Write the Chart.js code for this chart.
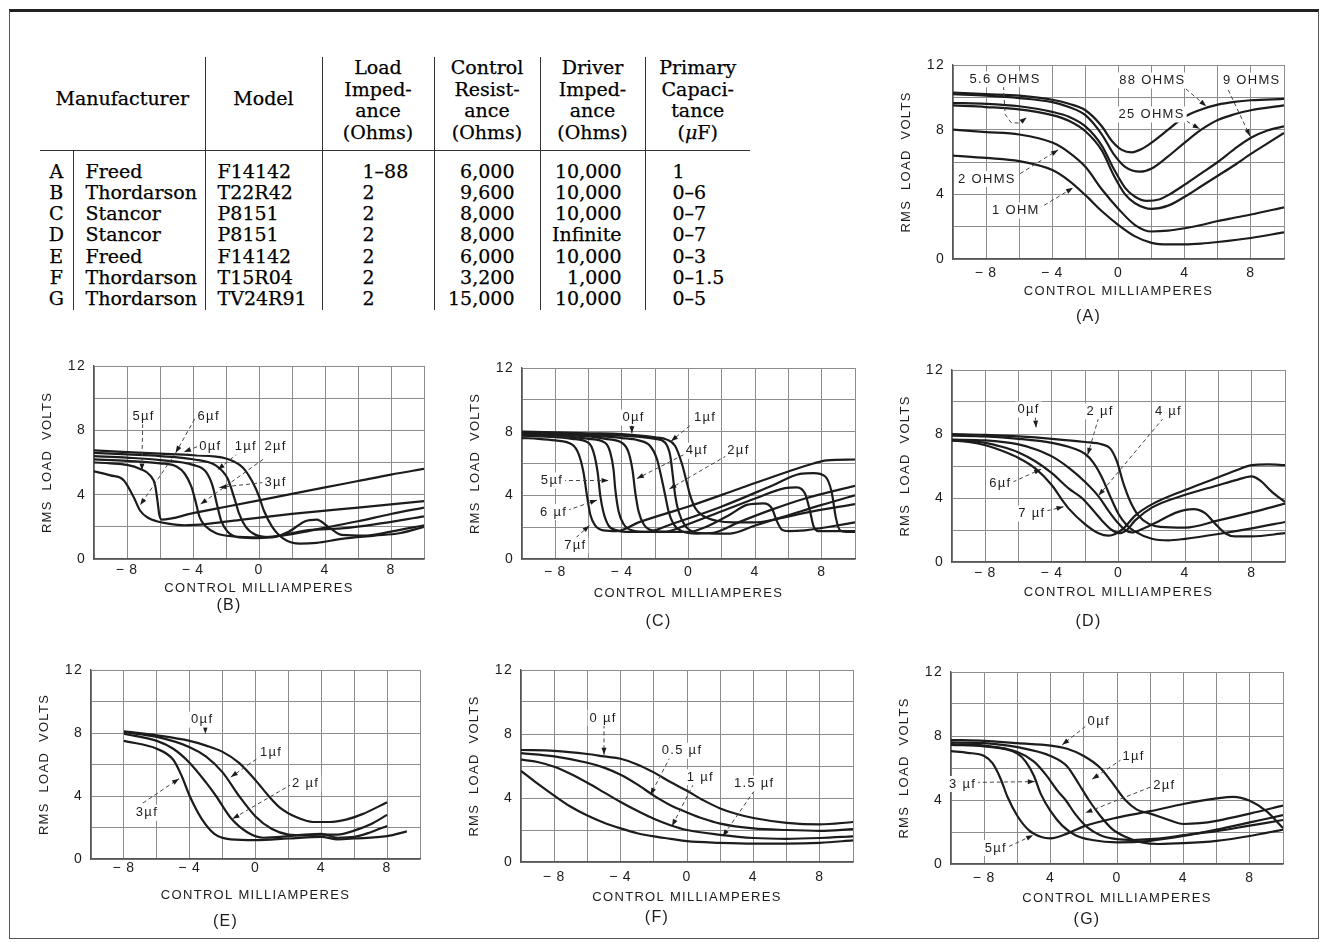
<!DOCTYPE html>
<html>
<head>
<meta charset="utf-8">
<script src="https://cdn.jsdelivr.net/npm/chart.js@4.4.0/dist/chart.umd.min.js"></script>
<style>
body { margin:0; background:#fff; width:1325px; height:942px; position:relative; overflow:hidden; }
#frame { position:absolute; left:9px; top:9px; width:1308px; height:926px; border:1px solid #555; border-top:3px solid #222; }
#spec { position:absolute; left:40px; top:57px; border-collapse:collapse; table-layout:fixed; width:710px;
        font-family:"DejaVu Serif", serif; font-size:19px; color:#000; -webkit-text-stroke:0.25px #000; }
#spec th { font-weight:normal; vertical-align:top; line-height:21.7px; padding:0; text-align:center; border-bottom:1.5px solid #333; }
#spec th.one { padding-top:31px; }
#spec td { padding:0; line-height:21.3px; white-space:nowrap; }
#spec tr.first td { padding-top:10px; }
#spec .v { border-left:1.5px solid #333; }
canvas { position:absolute; }
</style>
</head>
<body>
<div id="frame"></div>
<table id="spec"></table>
<script>
// ---------- table data ----------
var headers = ['Manufacturer', 'Model', 'Load<br>Imped-<br>ance<br>(Ohms)', 'Control<br>Resist-<br>ance<br>(Ohms)',
               'Driver<br>Imped-<br>ance<br>(Ohms)', 'Primary<br>Capaci-<br>tance<br>(<i>μ</i>F)'];
var rowLetters = ['A', 'B', 'C', 'D', 'E', 'F', 'G'];
var manufacturers = ['Freed', 'Thordarson', 'Stancor', 'Stancor', 'Freed', 'Thordarson', 'Thordarson'];
var models = ['F14142', 'T22R42', 'P8151', 'P8151', 'F14142', 'T15R04', 'TV24R91'];
var loadImpedance = ['1–88', '2', '2', '2', '2', '2', '2'];
var controlResistance = ['6,000', '9,600', '8,000', '8,000', '6,000', '3,200', '15,000'];
var driverImpedance = ['10,000', '10,000', '10,000', 'Infinite', '10,000', '1,000', '10,000'];
var primaryCapacitance = ['1', '0–6', '0–7', '0–7', '0–3', '0–1.5', '0–5'];

// ---------- chart axes ----------
var xTicks = [-8, -4, 0, 4, 8];
var xTickText = ['\u2212\u20098', '\u2212\u20094', '0', '4', '8'];
var xTickTextG = ['\u2212\u20098', '4', '0', '4', '8'];
var yTicks = [0, 4, 8, 12];

// ---------- (A) load impedance curves ----------
var A_88 = [[-10,10.3],[-8,10.2],[-6,10.1],[-4,9.85],[-3,9.6],[-2,9.2],[-1,8.2],[-0.4,7.3],[0.2,6.75],[0.8,6.6],[1.4,6.8],[2,7.2],[3,8.0],[4,8.8],[5,9.25],[6,9.55],[7,9.72],[8,9.82],[10,9.9]];
var A_25 = [[-10,10.2],[-8,10.1],[-6,9.95],[-4,9.7],[-3,9.4],[-2,8.9],[-1,7.7],[-0.3,6.5],[0.4,5.7],[1.3,5.4],[2,5.6],[3,6.35],[4,7.2],[5,8.0],[6,8.6],[7,8.95],[8,9.2],[10,9.5]];
var A_9 = [[-10,9.65],[-8,9.6],[-6,9.45],[-4,9.1],[-3,8.8],[-2,8.2],[-1,7.0],[-0.3,5.6],[0.4,4.4],[1,3.85],[1.7,3.6],[2.5,3.7],[3,3.95],[4,4.6],[5,5.3],[6,6.0],[7,6.8],[8,7.5],[9,7.95],[10,8.2]];
var A_56 = [[-10,9.5],[-8,9.4],[-6,9.25],[-4,8.9],[-3,8.55],[-2,7.9],[-1,6.7],[-0.3,5.2],[0.4,4.0],[1,3.45],[2,3.1],[3,3.3],[4,3.85],[5,4.5],[6,5.15],[7,5.8],[8,6.5],[9,7.15],[10,7.8]];
var A_2 = [[-10,8.0],[-8,7.85],[-6,7.7],[-4,7.2],[-3,6.6],[-2,5.7],[-1,4.3],[0,3.1],[1,2.1],[2,1.7],[3,1.75],[4,1.9],[5,2.1],[6,2.35],[7,2.55],[8,2.75],[10,3.2]];
var A_1 = [[-10,6.4],[-8,6.25],[-6,6.05],[-4,5.5],[-3,4.85],[-2,3.95],[-1,2.95],[0,2.1],[1,1.4],[2,1.0],[3,0.9],[4,0.9],[5,0.95],[6,1.05],[8,1.3],[10,1.65]];

// ---------- (B) ----------
var B_c1 = [[-10,5.45],[-9,5.2],[-8.2,4.9],[-7.6,3.85],[-7.2,3.0],[-6.7,2.55],[-6.2,2.35],[-5.5,2.2],[-4.5,2.1],[-3,2.2],[-1,2.45],[2,2.8],[6,3.2],[10,3.6]];
var B_c2 = [[-10,6.0],[-9,5.95],[-8,5.85],[-7.2,5.6],[-6.6,5.2],[-6.3,4.6],[-6.15,3.6],[-6.05,2.8],[-5.9,2.45],[-4,2.85],[-2,3.25],[0,3.65],[2,4.05],[4,4.45],[6,4.85],[8,5.25],[10,5.6]];
var B_c3 = [[-10,6.2],[-8,6.1],[-6,5.95],[-5,5.75],[-4.5,5.3],[-4.1,4.5],[-3.85,3.6],[-3.6,2.6],[-3.2,2.0],[-2.6,1.6],[-1.5,1.4],[0,1.35],[2,1.55],[4,1.95],[6,2.35],[8,2.8],[10,3.2]];
var B_c4 = [[-10,6.4],[-8,6.3],[-6,6.15],[-4,5.85],[-3.2,5.4],[-2.8,4.5],[-2.55,3.4],[-2.3,2.4],[-1.9,1.7],[-1.2,1.35],[0,1.3],[1,1.4],[3,1.8],[5,1.9],[7,2.15],[10,2.65]];
var B_c5 = [[-10,6.6],[-8,6.5],[-6,6.4],[-4,6.2],[-2.6,5.8],[-1.9,5.0],[-1.5,3.8],[-1.2,2.8],[-0.8,2.0],[-0.2,1.5],[0.8,1.35],[1.8,1.7],[2.8,2.35],[3.5,2.45],[4.2,2.0],[5,1.5],[6.5,1.45],[8,1.7],[10,2.1]];
var B_c6 = [[-10,6.75],[-8,6.65],[-6,6.55],[-4,6.45],[-2,6.25],[-1,5.7],[-0.4,4.8],[0,3.9],[0.3,3.0],[0.8,2.0],[1.5,1.25],[2.5,0.95],[3.5,1.0],[5,1.25],[7,1.45],[8.5,1.6],[10,2.0]];

// ---------- (C) ----------
var C_7 = [[-10,7.6],[-9,7.55],[-8,7.45],[-7,7.2],[-6.6,6.6],[-6.3,5.4],[-6.1,4.0],[-5.9,2.8],[-5.6,2.1],[-5.1,1.8],[-4.3,1.75],[-3,2.3],[0,3.3],[3,4.4],[6,5.5],[7.5,6.0],[8.3,6.2],[10,6.25]];
var C_6 = [[-10,7.75],[-8,7.65],[-7,7.55],[-6,7.3],[-5.7,6.7],[-5.45,5.4],[-5.3,4.0],[-5.1,2.9],[-4.8,2.1],[-4.3,1.8],[-3.5,1.7],[-2.5,1.7],[-1,2.2],[2,3.3],[5,4.6],[6.7,5.35],[7.5,5.4],[8.2,5.2],[8.6,4.2],[8.85,2.6],[9.1,1.8],[9.5,1.7],[10,1.7]];
var C_5 = [[-10,7.8],[-8,7.75],[-6,7.55],[-5,7.3],[-4.7,6.7],[-4.5,5.6],[-4.4,4.4],[-4.2,3.0],[-3.9,2.2],[-3.4,1.8],[-2.5,1.7],[-1.5,1.7],[0,2.2],[2,3.0],[4,3.8],[5.8,4.45],[6.5,4.5],[7,4.1],[7.3,3.0],[7.5,2.1],[7.8,1.75],[10,1.75]];
var C_4 = [[-10,7.85],[-8,7.8],[-6,7.7],[-5,7.55],[-4,7.3],[-3.6,6.7],[-3.35,5.5],[-3.2,4.2],[-3.0,3.0],[-2.7,2.2],[-2.2,1.8],[-1,1.7],[0,1.7],[1,2.0],[2.5,2.8],[3.5,3.4],[4.5,3.5],[5,3.2],[5.3,2.4],[5.6,1.85],[6,1.75],[7,1.8],[10,2.3]];
var C_3 = [[-10,7.9],[-8,7.85],[-6,7.75],[-4,7.6],[-3,7.45],[-2.3,7.1],[-1.9,6.3],[-1.6,5.0],[-1.4,4.0],[-1.2,3.0],[-0.9,2.2],[-0.4,1.75],[0.5,1.6],[1.5,1.65],[3,2.3],[5,3.1],[7,3.8],[10,4.6]];
var C_2 = [[-10,7.95],[-8,7.9],[-6,7.85],[-4,7.75],[-2,7.55],[-1.4,7.3],[-1.1,6.5],[-0.95,5.3],[-0.8,4.0],[-0.6,3.0],[-0.2,2.1],[0.5,1.65],[1.5,1.6],[2.5,1.6],[4,2.1],[6,2.75],[8,3.4],[10,4.0]];
var C_0 = [[-10,8.0],[-8,7.95],[-6,7.9],[-4,7.85],[-2,7.65],[-1.3,7.5],[-0.8,7.1],[-0.4,6.0],[-0.1,4.8],[0.1,4.0],[0.4,3.2],[0.9,2.7],[1.7,2.4],[2.7,2.3],[4,2.3],[5,2.45],[7,2.9],[10,3.45]];

// ---------- (D) ----------
var D_7 = [[-10,7.6],[-9,7.5],[-8,7.3],[-7,6.95],[-6,6.5],[-5,5.85],[-4,4.8],[-3.4,3.9],[-3,3.35],[-2,2.35],[-1.2,1.8],[-0.6,1.65],[-0.2,1.75],[0.3,2.1],[1,2.9],[2,3.6],[4,4.5],[6,5.3],[7,5.7],[8,6.05],[9,6.1],[10,6.05]];
var D_6 = [[-10,7.6],[-9,7.55],[-8,7.45],[-7,7.2],[-6,6.85],[-5,6.3],[-4,5.55],[-3,4.6],[-2.2,4.0],[-1.5,3.2],[-1,2.6],[-0.4,2.0],[0.1,1.8],[0.5,2.0],[1,2.6],[2,3.4],[4,4.2],[6,4.8],[7,5.1],[8,5.35],[8.5,5.1],[9.2,4.4],[10,3.75]];
var D_4 = [[-10,7.65],[-8,7.6],[-6,7.35],[-5,7.05],[-4,6.6],[-3,5.9],[-2,5.0],[-1.2,4.1],[-0.6,3.2],[0,2.4],[0.4,2.0],[0.8,1.85],[1.5,2.1],[2.5,2.6],[3.5,3.1],[4.5,3.3],[5.2,3.05],[5.8,2.4],[6.4,1.8],[7,1.6],[8,1.6],[10,1.8]];
var D_2 = [[-10,7.9],[-8,7.85],[-6,7.7],[-4,7.45],[-3,7.2],[-2,6.75],[-1.5,6.2],[-1,5.3],[-0.5,4.1],[0,3.0],[0.5,2.3],[1,1.9],[2,1.45],[3,1.35],[4,1.45],[6,1.75],[8,2.1],[10,2.5]];
var D_0 = [[-10,8.0],[-8,7.95],[-6,7.85],[-4,7.7],[-2,7.5],[-1,7.35],[-0.5,7.1],[-0.1,6.3],[0.3,4.9],[0.7,3.8],[1.2,2.9],[1.8,2.4],[2.5,2.2],[4,2.15],[6,2.6],[8,3.1],[10,3.65]];

// ---------- (E) ----------
var E_0 = [[-8,8.1],[-6,7.85],[-4,7.5],[-3,7.2],[-2,6.8],[-1,6.1],[0,5.0],[0.8,4.0],[1.5,3.25],[2.5,2.65],[3.5,2.35],[4.5,2.35],[5.5,2.5],[6.5,2.85],[8,3.6]];
var E_1 = [[-8,8.05],[-6,7.75],[-4,7.1],[-3,6.5],[-2,5.5],[-1,4.0],[0,2.7],[1,1.9],[2,1.55],[3,1.5],[4,1.55],[5,1.55],[6,1.8],[7,2.2],[8,2.8]];
var E_2 = [[-8,7.95],[-6,7.5],[-5,7.0],[-4,6.1],[-3,4.85],[-2.4,4.0],[-1.5,2.6],[-0.5,1.7],[0.5,1.35],[2,1.45],[3,1.55],[4,1.6],[5,1.35],[6,1.4],[7,1.7],[8,2.1]];
var E_3 = [[-8,7.5],[-6,7.0],[-5,6.3],[-4.5,5.3],[-4,4.0],[-3.3,2.6],[-2.5,1.6],[-1.5,1.25],[0,1.2],[2,1.3],[4,1.4],[5,1.25],[6,1.3],[8,1.45],[9.2,1.75]];

// ---------- (F) ----------
var F_0 = [[-10,7.0],[-8,6.95],[-6,6.75],[-5,6.6],[-4,6.45],[-3,6.1],[-2,5.6],[-1,5.0],[0,4.45],[1,3.85],[2,3.35],[3,3.0],[4,2.75],[6,2.45],[8,2.35],[10,2.5]];
var F_05 = [[-10,6.8],[-8,6.6],[-6,6.2],[-5,5.9],[-4,5.45],[-3,4.85],[-2,4.15],[-1,3.55],[0,3.1],[1,2.7],[2,2.4],[4,2.1],[6,2.0],[8,1.95],[10,2.05]];
var F_1 = [[-10,6.4],[-9,6.25],[-8,5.95],[-7,5.5],[-6,4.95],[-5,4.35],[-4,3.75],[-3,3.2],[-2,2.7],[-1,2.3],[0,2.0],[2,1.7],[4,1.5],[6,1.45],[8,1.5],[10,1.6]];
var F_15 = [[-10,5.7],[-9,4.9],[-8,4.15],[-7,3.45],[-6,2.9],[-5,2.45],[-4,2.1],[-3,1.8],[-2,1.6],[-1,1.45],[0,1.3],[2,1.2],[4,1.15],[6,1.15],[8,1.2],[10,1.35]];

// ---------- (G) ----------
var G_0 = [[-10,7.75],[-8,7.7],[-6,7.55],[-4,7.4],[-3,7.2],[-2,6.75],[-1,6.0],[-0.3,5.1],[0.5,4.0],[1.2,3.4],[2,3.15],[3,2.8],[4,2.5],[5,2.55],[6,2.7],[8,3.15],[10,3.65]];
var G_1 = [[-10,7.6],[-8,7.55],[-6,7.3],[-4,6.75],[-3,6.1],[-2.3,5.0],[-1.7,4.0],[-1,3.0],[-0.3,2.2],[0.5,1.7],[1.5,1.35],[2.5,1.25],[4,1.3],[6,1.45],[8,1.75],[10,2.15]];
var G_2 = [[-10,7.5],[-8,7.4],[-6,7.0],[-5,6.4],[-4.3,5.6],[-3.6,4.6],[-3.1,4.0],[-2.5,3.1],[-1.8,2.3],[-1,1.8],[0,1.55],[1,1.5],[2,1.55],[3,1.65],[4,1.8],[6,2.05],[8,2.4],[10,2.75]];
var G_3 = [[-10,7.45],[-8,7.35],[-6,6.9],[-5.5,6.4],[-5,5.5],[-4.6,4.4],[-4,3.3],[-3.3,2.4],[-2.5,1.8],[-1.5,1.5],[0,1.35],[2,1.45],[4,1.75],[6,2.15],[8,2.6],[10,3.05]];
var G_5 = [[-10,7.05],[-9,6.95],[-8,6.75],[-7.5,6.3],[-7,5.3],[-6.6,4.2],[-6,3.0],[-5.3,2.1],[-4.6,1.7],[-4,1.6],[-3,1.9],[-2,2.35],[0,2.9],[2,3.3],[4,3.75],[6,4.1],[7,4.2],[8,3.95],[9,3.3],[10,2.25]];

// ---------- curve labels (text, label centre, leader path; data units) ----------
var notesA = [
  {text: '5.6 OHMS', at: [-6.85, 11.12], path: [[-6.95,10.7],[-6.85,8.95],[-6.5,8.45],[-6.0,8.4],[-5.55,8.75]]},
  {text: '88 OHMS', at: [2.05, 11.04], path: [[3.75,10.8],[5.3,9.45]]},
  {text: '9 OHMS', at: [8.05, 11.04], path: [[6.45,10.85],[7.95,7.6]]},
  {text: '25 OHMS', at: [2.0, 8.94], path: [[3.75,8.75],[4.9,8.05]]},
  {text: '2 OHMS', at: [-7.95, 4.95], path: [[-6.3,5.05],[-3.65,6.75]]},
  {text: '1 OHM', at: [-6.2, 3.0], path: [[-4.85,3.1],[-2.75,4.4]]}
];
var notesB = [
  {text: '5µf', at: [-7.0, 8.87], path: [[-7.05,8.4],[-7.1,5.5]]},
  {text: '6µf', at: [-3.05, 8.87], path: [[-3.9,8.7],[-5.05,6.6]]},
  {text: '', at: null, path: [[-5.05,6.6],[-7.2,3.35]]},
  {text: '0µf', at: [-2.95, 6.98], path: [[-3.75,6.98],[-4.55,6.65]]},
  {text: '1µf', at: [-0.8, 6.98], path: [[-1.25,6.6],[-2.5,5.55]]},
  {text: '2µf', at: [1.0, 6.98], path: [[0.25,6.2],[-3.55,3.4]]},
  {text: '3µf', at: [1.0, 4.76], path: [[0.3,4.76],[-2.4,4.45]]}
];
var notesC = [
  {text: '0µf', at: [-3.3, 8.88], path: [[-3.4,8.45],[-3.4,7.9]]},
  {text: '1µf', at: [1.0, 8.88], path: [[0.4,8.65],[-1.05,7.4]]},
  {text: '4µf', at: [0.5, 6.8], path: [[-0.3,6.55],[-3.1,5.05]]},
  {text: '2µf', at: [3.0, 6.8], path: [[2.3,6.5],[-1.15,4.4]]},
  {text: '5µf', at: [-8.2, 4.93], path: [[-7.6,4.93],[-4.8,4.93]]},
  {text: '6 µf', at: [-8.1, 2.95], path: [[-7.3,3.05],[-5.5,3.7]]},
  {text: '7µf', at: [-6.8, 0.87], path: [[-6.75,1.35],[-5.95,2.1]]}
];
var notesD = [
  {text: '0µf', at: [-5.4, 9.53], path: [[-5.0,9.1],[-4.95,8.4]]},
  {text: '2 µf', at: [-1.1, 9.42], path: [[-1.2,9.0],[-1.85,6.7]]},
  {text: '4 µf', at: [3.0, 9.42], path: [[2.7,9.0],[-1.2,4.15]]},
  {text: '6µf', at: [-7.1, 4.93], path: [[-6.35,5.0],[-4.65,5.8]]},
  {text: '7 µf', at: [-5.2, 3.03], path: [[-4.3,3.2],[-3.3,3.45]]}
];
var notesE = [
  {text: '0µf', at: [-3.24, 8.85], path: [[-3.05,8.45],[-3.05,7.95]]},
  {text: '1µf', at: [0.95, 6.75], path: [[0.4,6.6],[-1.5,5.2]]},
  {text: '2 µf', at: [3.05, 4.8], path: [[2.2,4.75],[-1.4,2.55]]},
  {text: '3µf', at: [-6.6, 2.94], path: [[-6.85,3.55],[-4.65,5.1]]}
];
var notesF = [
  {text: '0 µf', at: [-5.05, 9.0], path: [[-5.0,8.6],[-5.0,6.7]]},
  {text: '0.5 µf', at: [-0.3, 6.95], path: [[-1.0,6.6],[-2.2,4.2]]},
  {text: '1 µf', at: [0.8, 5.3], path: [[0.4,4.9],[-0.9,2.25]]},
  {text: '1.5 µf', at: [4.05, 4.9], path: [[4.05,4.45],[2.15,1.6]]}
];
var notesG = [
  {text: '0µf', at: [-1.1, 8.9], path: [[-1.9,8.6],[-3.3,7.45]]},
  {text: '1µf', at: [1.0, 6.75], path: [[0.3,6.55],[-1.5,5.3]]},
  {text: '2µf', at: [2.85, 4.9], path: [[2.0,4.8],[-1.9,3.2]]},
  {text: '3 µf', at: [-9.3, 5.0], path: [[-8.5,5.1],[-4.95,5.15]]},
  {text: '5µf', at: [-7.3, 1.0], path: [[-6.5,1.1],[-5.05,1.8]]}
];

// ---------- look ----------
var INK = '#1c1c1c';
var GRID = '#8c8c8c';
var SANS = '"Liberation Sans", Arial, sans-serif';

// plot-area corners on the page, and offsets of tick row / axis title / caption below it
var boxes = {
  A: {l: 953, t: 63, r: 1284, b: 259, tick: 14, title: 32, cap: 58},
  B: {l: 94, t: 364, r: 424, b: 559, tick: 11, title: 29, cap: 46},
  C: {l: 522, t: 366, r: 855, b: 559, tick: 13, title: 34, cap: 63},
  D: {l: 952, t: 368, r: 1285, b: 562, tick: 11, title: 30, cap: 60},
  E: {l: 91, t: 668, r: 420, b: 859, tick: 9, title: 36, cap: 63},
  F: {l: 521, t: 668, r: 853, b: 862, tick: 15, title: 35, cap: 56},
  G: {l: 951, t: 670, r: 1283, b: 864, tick: 14, title: 34, cap: 56}
};

// ---------- table ----------
function buildTable(){
    var t = document.getElementById('spec');
    var html = '<colgroup><col style="width:33px"><col style="width:132px"><col style="width:117px"><col style="width:112px">' +
               '<col style="width:106px"><col style="width:105px"><col style="width:105px"></colgroup>';
    html += '<tr style="height:93px">';
    html += '<th colspan="2" class="one">' + headers[0] + '</th>';
    html += '<th class="one v">' + headers[1] + '</th>';
    for (var h = 2; h < headers.length; h++) html += '<th class="v">' + headers[h] + '</th>';
    html += '</tr>';
    for (var i = 0; i < rowLetters.length; i++) {
        html += '<tr' + (i === 0 ? ' class="first"' : '') + '>';
        html += '<td style="text-align:center;border-right:1px solid #333">' + rowLetters[i] + '</td>';
        html += '<td style="padding-left:12px">' + manufacturers[i] + '</td>';
        html += '<td class="v" style="padding-left:12px">' + models[i] + '</td>';
        html += '<td class="v" style="padding-left:40px">' + loadImpedance[i] + '</td>';
        html += '<td class="v" style="text-align:right;padding-right:25px">' + controlResistance[i] + '</td>';
        html += '<td class="v" style="text-align:right;padding-right:23px">' + driverImpedance[i] + '</td>';
        html += '<td class="v" style="padding-left:27px">' + primaryCapacitance[i] + '</td>';
        html += '</tr>';
    }
    t.innerHTML = html;
}

// ---------- chart plugins ----------
var spacing = { id: 'spacing', beforeDraw: function(chart){ chart.ctx.letterSpacing = '1.3px'; } };

function leaders(notes){
    return {
        id: 'leaders',
        afterDatasetsDraw: function(chart){
            var ctx = chart.ctx, sx = chart.scales.x, sy = chart.scales.y;
            function px(p){ return [sx.getPixelForValue(p[0]), sy.getPixelForValue(p[1])]; }
            ctx.save();
            notes.forEach(function(n){
                var pts = n.path.map(px);
                ctx.setLineDash([4, 3]);
                ctx.lineWidth = 1;
                ctx.strokeStyle = '#444';
                ctx.beginPath();
                pts.forEach(function(p, i){ if (i) ctx.lineTo(p[0], p[1]); else ctx.moveTo(p[0], p[1]); });
                ctx.stroke();
                ctx.setLineDash([]);
                var a = pts[pts.length - 2], b = pts[pts.length - 1];
                var ang = Math.atan2(b[1] - a[1], b[0] - a[0]);
                var c = Math.cos(ang), s = Math.sin(ang);
                ctx.fillStyle = INK;
                ctx.beginPath();
                ctx.moveTo(b[0], b[1]);
                ctx.lineTo(b[0] - 7 * c + 2.5 * s, b[1] - 7 * s - 2.5 * c);
                ctx.lineTo(b[0] - 7 * c - 2.5 * s, b[1] - 7 * s + 2.5 * c);
                ctx.closePath();
                ctx.fill();
            });
            notes.forEach(function(n){
                if (!n.at) return;
                var p = px(n.at);
                ctx.font = '13px ' + SANS;
                var w = ctx.measureText(n.text).width;
                ctx.fillStyle = '#fff';
                ctx.fillRect(p[0] - w / 2 - 2, p[1] - 8, w + 4, 16);
                ctx.fillStyle = INK;
                ctx.textAlign = 'center';
                ctx.textBaseline = 'middle';
                ctx.fillText(n.text, p[0], p[1]);
            });
            ctx.restore();
        }
    };
}

// ---------- one small chart ----------
function buildChart(box, series, notes, caption, tickText){
    var YW = 60, PT = 14, PR = 14;
    var pw = box.r - box.l, ph = box.b - box.t;
    var H = box.title + 8;
    var capPad = Math.max(0, box.cap - H - 10);
    var cw = YW + pw + PR;
    var ch = PT + ph + H + capPad + 20 + 2;
    var cv = document.createElement('canvas');
    cv.width = cw; cv.height = ch;
    cv.style.left = (box.l - YW) + 'px';
    cv.style.top = (box.t - PT) + 'px';
    cv.style.width = cw + 'px';
    cv.style.height = ch + 'px';
    document.body.appendChild(cv);

    new Chart(cv.getContext('2d'), {
        type: 'line',
        data: {
            datasets: series.map(function(s){
                return {
                    data: s.map(function(p){ return {x: p[0], y: p[1]}; }),
                    borderColor: INK,
                    borderWidth: 2.2,
                    pointRadius: 0,
                    fill: false,
                    cubicInterpolationMode: 'monotone'
                };
            })
        },
        options: {
            responsive: false,
            animation: false,
            devicePixelRatio: 1,
            events: [],
            layout: { padding: { top: PT, right: PR, left: 0, bottom: 0 } },
            plugins: {
                legend: { display: false },
                tooltip: { enabled: false },
                title: {
                    display: true, text: caption, position: 'bottom', color: INK,
                    font: { family: SANS, size: 16, weight: 'normal', lineHeight: '20px' },
                    padding: { top: capPad, bottom: 2 }
                }
            },
            scales: {
                x: {
                    type: 'linear', min: -10, max: 10,
                    afterFit: function(s){ s.height = H; },
                    ticks: {
                        stepSize: 2, autoSkip: false, maxRotation: 0, padding: box.tick - 8, color: INK,
                        font: { family: SANS, size: 14, lineHeight: '16px' },
                        callback: function(v){
                            var i = xTicks.indexOf(Math.round(v));
                            return i < 0 ? '' : tickText[i];
                        }
                    },
                    grid: { color: GRID, lineWidth: 1, drawTicks: false },
                    border: { color: '#555', width: 1.4 },
                    title: {
                        display: true, text: 'CONTROL MILLIAMPERES', color: INK, padding: 0,
                        font: { family: SANS, size: 13, lineHeight: '16px' }
                    }
                },
                y: {
                    type: 'linear', min: 0, max: 12,
                    afterFit: function(s){ s.width = YW; },
                    ticks: {
                        stepSize: 2, padding: 8, color: INK,
                        font: { family: SANS, size: 14, lineHeight: '16px' },
                        callback: function(v){ return yTicks.indexOf(Math.round(v)) < 0 ? '' : String(v); }
                    },
                    grid: { color: GRID, lineWidth: 1, drawTicks: false },
                    border: { color: '#555', width: 1.4 },
                    title: {
                        display: true, text: 'RMS  LOAD  VOLTS', color: INK, padding: { top: 5, bottom: 0 },
                        font: { family: SANS, size: 13, lineHeight: '16px' }
                    }
                }
            }
        },
        plugins: [spacing, leaders(notes)]
    });
}

buildTable();
buildChart(boxes.A, [A_88, A_25, A_9, A_56, A_2, A_1], notesA, '(A)', xTickText);
buildChart(boxes.B, [B_c1, B_c2, B_c3, B_c4, B_c5, B_c6], notesB, '(B)', xTickText);
buildChart(boxes.C, [C_7, C_6, C_5, C_4, C_3, C_2, C_0], notesC, '(C)', xTickText);
buildChart(boxes.D, [D_7, D_6, D_4, D_2, D_0], notesD, '(D)', xTickText);
buildChart(boxes.E, [E_0, E_1, E_2, E_3], notesE, '(E)', xTickText);
buildChart(boxes.F, [F_0, F_05, F_1, F_15], notesF, '(F)', xTickText);
buildChart(boxes.G, [G_0, G_1, G_2, G_3, G_5], notesG, '(G)', xTickTextG);
</script>
</body>
</html>
